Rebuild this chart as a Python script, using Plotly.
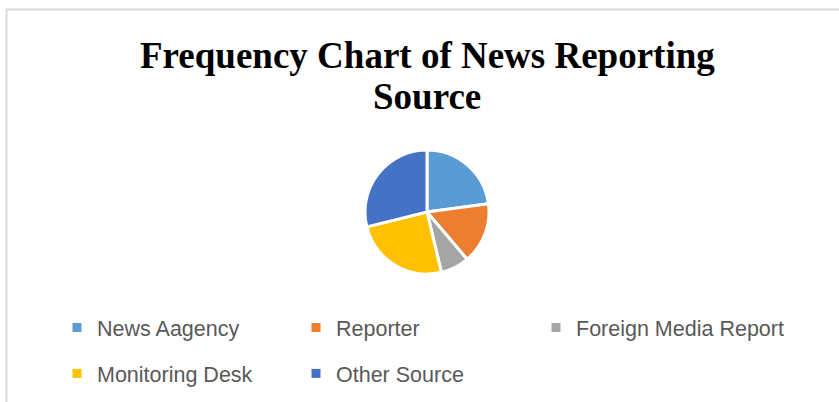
import plotly.graph_objects as go

# Share of news items by reporting source
sources = ["News Aagency", "Reporter", "Foreign Media Report", "Monitoring Desk", "Other Source"]
counts = [23, 16, 7.5, 25, 29]
colors = ["#5B9BD5", "#ED7D31", "#A5A5A5", "#FFC000", "#4472C4"]
title_lines = ["Frequency Chart of News Reporting", "Source"]

# legend columns (index into sources), laid out like a 3-column grid
legend_columns = [[0, 3], [1, 4], [2]]

W, H = 839, 402
cx, cy, r = 427, 212, 62
legend_left_px = [57, 296, 536]

fig = go.Figure()
fig.add_trace(go.Pie(
    labels=sources,
    values=counts,
    marker=dict(colors=colors, line=dict(color="white", width=3)),
    sort=False,
    direction="clockwise",
    rotation=0,
    textinfo="none",
    hoverinfo="label+value+percent",
    showlegend=False,
    domain=dict(x=[(cx - r) / W, (cx + r) / W], y=[1 - (cy + r) / H, 1 - (cy - r) / H]),
))

legend_names = ["legend", "legend2", "legend3"]
for col, idxs in enumerate(legend_columns):
    for i in idxs:
        fig.add_trace(go.Scatter(
            x=[None], y=[None], mode="markers",
            marker=dict(symbol="square", size=9, color=colors[i]),
            name=sources[i],
            legend=legend_names[col],
            legendgroup=sources[i],
            showlegend=True,
        ))

legend_style = dict(
    orientation="v",
    yanchor="top",
    y=1 - 307 / H,
    xanchor="left",
    font=dict(family="Liberation Sans, Arial, sans-serif", size=21.5, color="#595959"),
    bgcolor="rgba(0,0,0,0)",
    tracegroupgap=15,
    itemclick=False,
    itemdoubleclick=False,
)

# two-line chart title
title_tops = [33, 74]
annotations = [
    dict(text=f"<b>{line}</b>", xref="paper", yref="paper", x=427 / W, y=1 - top / H,
         xanchor="center", yanchor="top", showarrow=False,
         font=dict(family="Liberation Serif, Times New Roman, serif", size=37, color="black"))
    for line, top in zip(title_lines, title_tops)
]

fig.update_layout(
    width=W, height=H,
    margin=dict(l=0, r=0, t=0, b=0),
    paper_bgcolor="white",
    plot_bgcolor="white",
    xaxis=dict(visible=False),
    yaxis=dict(visible=False),
    legend=dict(legend_style, x=legend_left_px[0] / W),
    legend2=dict(legend_style, x=legend_left_px[1] / W),
    legend3=dict(legend_style, x=legend_left_px[2] / W),
    annotations=annotations,
    shapes=[
        dict(type="line", xref="paper", yref="paper", x0=6 / W, x1=1, y0=1 - 9.5 / H, y1=1 - 9.5 / H,
             line=dict(color="#D9D9D9", width=2)),
        dict(type="line", xref="paper", yref="paper", x0=6.5 / W, x1=6.5 / W, y0=0, y1=1 - 9 / H,
             line=dict(color="#D9D9D9", width=2)),
    ],
)

fig.write_html("out.html")
